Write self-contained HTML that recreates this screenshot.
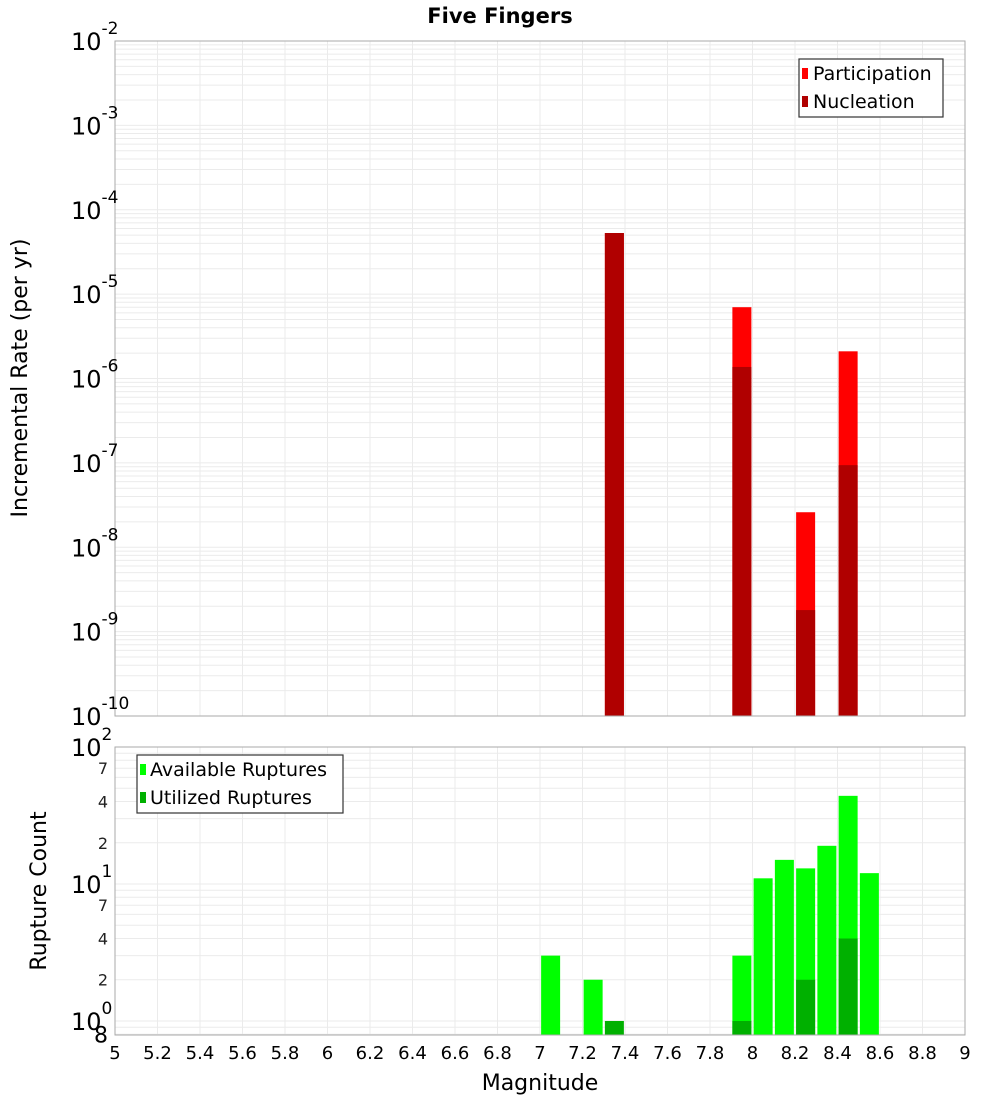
<!DOCTYPE html>
<html><head><meta charset="utf-8"><style>
body{margin:0;background:#fff;}
svg{display:block;font-family:"DejaVu Sans","Liberation Sans",sans-serif;}
</style></head><body>
<svg id="chart" width="1000" height="1100" xmlns="http://www.w3.org/2000/svg">
<text x="500" y="23" text-anchor="middle" font-size="21" font-weight="bold">Five Fingers</text>
<g id="topPanel"></g>
<g id="botPanel"></g>
<text transform="translate(27,378) rotate(-90)" text-anchor="middle" font-size="22">Incremental Rate (per yr)</text>
<text transform="translate(46,891) rotate(-90)" text-anchor="middle" font-size="22">Rupture Count</text>
<text x="540" y="1090" text-anchor="middle" font-size="22">Magnitude</text>
<g>
<rect x="799" y="59" width="144" height="58" fill="#fff" stroke="#333" stroke-width="1.2"/>
<rect x="802" y="68" width="6" height="11" fill="#ff0000"/>
<text x="813" y="80" font-size="19">Participation</text>
<rect x="802" y="96" width="6" height="11" fill="#b00000"/>
<text x="813" y="108" font-size="19">Nucleation</text>
</g>
<g>
<rect x="137" y="755" width="206" height="58" fill="#fff" stroke="#333" stroke-width="1.2"/>
<rect x="140" y="764" width="6" height="11" fill="#00ff00"/>
<text x="150" y="776" font-size="19">Available Ruptures</text>
<rect x="140" y="792" width="6" height="11" fill="#00b000"/>
<text x="150" y="804" font-size="19">Utilized Ruptures</text>
</g>
</svg>
<script>
const xTicks=[5,5.2,5.4,5.6,5.8,6,6.2,6.4,6.6,6.8,7,7.2,7.4,7.6,7.8,8,8.2,8.4,8.6,8.8,9];
const rateMags=[7.35,7.95,8.25,8.45];
const participation=[5.3e-5,7.0e-6,2.6e-8,2.1e-6];
const nucleation=[5.3e-5,1.37e-6,1.8e-9,9.4e-8];
const countMags=[7.05,7.25,7.35,7.95,8.05,8.15,8.25,8.35,8.45,8.55];
const available=[3,2,0,3,11,15,13,19,44,12];
const utilized=[0,0,1,1,0,0,2,0,4,0];
const topDecades=[-2,-3,-4,-5,-6,-7,-8,-9,-10];

const NS="http://www.w3.org/2000/svg";
const L=115,R=965;
const X=m=>L+(m-5)/4*(R-L);
const T0=41,T1=716;
const yTop=v=>T0+(-2-Math.log10(v))/8*(T1-T0);
const B0=747,B1=1035,bMin=Math.log10(0.79);
const yBot=v=>B0+(2-Math.log10(v))/(2-bMin)*(B1-B0);
function el(p,tag,a){const e=document.createElementNS(NS,tag);for(const k in a)e.setAttribute(k,a[k]);p.appendChild(e);return e;}
const topG=document.getElementById('topPanel'),botG=document.getElementById('botPanel');
const svgEl=document.getElementById('chart');

function panel(g,y0,y1,yf,dmin,dmax,lo){
  el(g,'rect',{x:L,y:y0,width:R-L,height:y1-y0,fill:'#fff'});
  for(let d=dmin;d<dmax;d++)for(let k=1;k<10;k++){const v=k*Math.pow(10,d);if(v<lo)continue;const y=yf(v);if(y<y0-0.5||y>y1)continue;
    const ln=el(g,'line',{x1:L,x2:R,y1:y,y2:y,stroke:'#ebebeb','stroke-width':1});
    
    }
  xTicks.forEach(t=>{const x=X(t);const ln=el(g,'line',{x1:x,x2:x,y1:y0,y2:y1,stroke:'#ebebeb','stroke-width':1});
    
    });
}
panel(topG,T0,T1,yTop,-10,-2,1e-10);
panel(botG,B0,B1,yBot,-1,2,0.79);

const bw=19;
rateMags.forEach((m,i)=>{
  const x=X(m)-bw/2;
  let r=el(topG,'rect',{x:x,y:yTop(participation[i]),width:bw,height:T1-yTop(participation[i]),fill:'#ff0000'});
  
  
  r=el(topG,'rect',{x:x,y:yTop(nucleation[i]),width:bw,height:T1-yTop(nucleation[i]),fill:'#b00000'});
  
  
});
countMags.forEach((m,i)=>{
  const x=X(m)-bw/2;
  if(available[i]>0){const r=el(botG,'rect',{x:x,y:yBot(available[i]),width:bw,height:B1-yBot(available[i]),fill:'#00ff00'});
    
    }
  if(utilized[i]>0){const r=el(botG,'rect',{x:x,y:yBot(utilized[i]),width:bw,height:B1-yBot(utilized[i]),fill:'#00b000'});
    
    }
});
el(topG,'rect',{x:L,y:T0,width:R-L,height:T1-T0,fill:'none',stroke:'#aaa','stroke-width':1});
el(botG,'rect',{x:L,y:B0,width:R-L,height:B1-B0,fill:'none',stroke:'#aaa','stroke-width':1});

function decLabel(g,y,exp){
  const t=el(g,'text',{x:71,y:y+9,'font-size':24});
  
  
  t.textContent='10';
  const s=el(t,'tspan',{dy:-16,'font-size':17});s.textContent=String(exp);
}
topDecades.forEach(d=>decLabel(topG,yTop(Math.pow(10,d)),d));
[2,1,0].forEach(d=>decLabel(botG,yBot(Math.pow(10,d)),d));
[70,40,20,7,4,2,0.8].forEach(v=>{
  const t=el(botG,'text',{x:108,y:yBot(v)+6,'font-size':16,'text-anchor':'end',fill:'#222'});
  
  
  t.textContent=String(v<1?8:(v>=10?v/10:v));
  if(v<1){t.setAttribute('font-size','22');t.setAttribute('y',yBot(v)+8);t.setAttribute('fill','#000');}
});
xTicks.forEach(t=>{
  const e=el(svgEl,'text',{x:X(t),y:1059,'font-size':18,'text-anchor':'middle'});
  
  
  e.textContent=String(t);
});
</script>
</body></html>
